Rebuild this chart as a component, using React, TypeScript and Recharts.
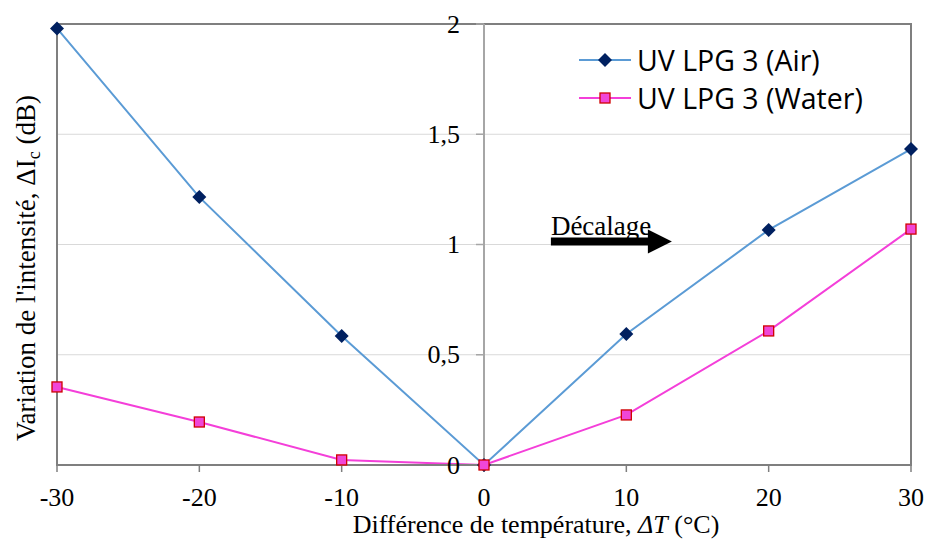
import React from "react";
import {
  LineChart,
  Line,
  XAxis,
  YAxis,
  CartesianGrid,
  ReferenceLine,
  ReferenceArea,
  ReferenceDot,
  Legend,
} from "recharts";

const temperatures = [-30, -20, -10, 0, 10, 20, 30];
const airValues = [1.98, 1.215, 0.585, 0, 0.594, 1.066, 1.433];
const waterValues = [0.354, 0.195, 0.023, 0, 0.227, 0.608, 1.07];
const xTicks = [-30, -20, -10, 0, 10, 20, 30];
const yTicks = [0, 0.5, 1, 1.5, 2];
const yTickLabels = ["0", "0,5", "1", "1,5", "2"];
const seriesNames = ["UV LPG 3 (Air)", "UV LPG 3 (Water)"];
const arrowStart = { x: 4.7, y: 1.014 };
const arrowEnd = { x: 13.2, y: 1.014 };
const annotationText = "Décalage";

const data = temperatures.map((t, i) => ({
  dt: t,
  air: airValues[i],
  water: waterValues[i],
}));

const W = 929;
const H = 548;
const M = { top: 24, right: 18, left: 57, bottom: 23 };
const X_AXIS_H = 60;
const SERIF = "'Liberation Serif', 'Times New Roman', serif";
const SANS = "'Open Sans', 'Noto Sans', sans-serif";

const AIR_LINE = "#5b9bd5";
const AIR_MARK = "#002060";
const WATER_LINE = "#f43fd9";
const WATER_FILL = "#f046d8";
const WATER_EDGE = "#d00000";
const FRAME = "#7f7f7f";

const Diamond = (props: any) => {
  const { cx, cy } = props;
  if (cx == null || cy == null) return null;
  const r = 7;
  return (
    <path
      d={`M${cx},${cy - r} L${cx + r},${cy} L${cx},${cy + r} L${cx - r},${cy} Z`}
      fill={AIR_MARK}
    />
  );
};

const Square = (props: any) => {
  const { cx, cy } = props;
  if (cx == null || cy == null) return null;
  const s = 10;
  return (
    <rect
      x={cx - s / 2}
      y={cy - s / 2}
      width={s}
      height={s}
      fill={WATER_FILL}
      stroke={WATER_EDGE}
      strokeWidth={1.3}
    />
  );
};

// y-axis tick (mark + label) drawn at x=0 via a reference dot
const makeCenterTick = (label: string, showMark: boolean) => (props: any) => {
  const { cx, cy } = props;
  if (cx == null || cy == null) return <g />;
  return (
    <g>
      {showMark && (
        <line x1={cx - 8} x2={cx} y1={cy} y2={cy} stroke="#a6a6a6" strokeWidth={1.5} />
      )}
      <text
        x={cx - 24}
        y={cy}
        textAnchor="end"
        dominantBaseline="central"
        fontFamily={SERIF}
        fontSize={26}
        fill="#000"
      >
        {label}
      </text>
    </g>
  );
};

const ArrowShape = (props: any) => {
  const { x1, y1, x2 } = props;
  const head = 24;
  const halfShaft = 4;
  const halfHead = 12;
  const xs = Math.min(x1, x2);
  const xe = Math.max(x1, x2);
  const yc = y1;
  return (
    <g>
      <path
        d={`M${xs},${yc - halfShaft} L${xe - head},${yc - halfShaft} L${xe - head},${yc - halfHead} L${xe},${yc} L${xe - head},${yc + halfHead} L${xe - head},${yc + halfShaft} L${xs},${yc + halfShaft} Z`}
        fill="#000"
      />
      <text x={xs} y={yc - 6} fontFamily={SERIF} fontSize={27} fill="#000">
        {annotationText}
      </text>
    </g>
  );
};

const LegendContent = () => {
  const items = [
    { name: seriesNames[0], line: AIR_LINE, mark: "diamond" },
    { name: seriesNames[1], line: WATER_LINE, mark: "square" },
  ];
  return (
    <div>
      {items.map((it) => (
        <div
          key={it.name}
          style={{ display: "flex", alignItems: "center", height: 38 }}
        >
          <svg width={58} height={20} style={{ display: "block" }}>
            <line x1={0} x2={52} y1={10} y2={10} stroke={it.line} strokeWidth={2} />
            {it.mark === "diamond" ? (
              <path d="M26,3 L33,10 L26,17 L19,10 Z" fill={AIR_MARK} />
            ) : (
              <rect x={21} y={5} width={10} height={10} fill={WATER_FILL} stroke={WATER_EDGE} strokeWidth={1.3} />
            )}
          </svg>
          <span
            style={{
              fontFamily: SANS,
              fontSize: 28.5,
              color: "#000",
              lineHeight: "38px",
              whiteSpace: "nowrap",
            }}
          >
            {it.name}
          </span>
        </div>
      ))}
    </div>
  );
};

const XTitle = (props: any) => {
  const { viewBox } = props;
  const cx = viewBox.x + viewBox.width / 2 + 52;
  return (
    <text
      x={cx}
      y={533}
      textAnchor="middle"
      fontFamily={SERIF}
      fontSize={26}
      fill="#000"
    >
      <tspan>Différence de température, </tspan>
      <tspan fontStyle="italic">ΔT</tspan>
      <tspan> (°C)</tspan>
    </text>
  );
};

const YTitle = () => {
  const cx = 35;
  const cy = 268;
  return (
    <text
      x={cx}
      y={cy}
      transform={`rotate(-90 ${cx} ${cy})`}
      textAnchor="middle"
      fontFamily={SERIF}
      fontSize={27}
      fill="#000"
    >
      <tspan>Variation de l'intensité, ΔI</tspan>
      <tspan fontSize={18} dy={5}>c</tspan>
      <tspan dy={-5}> (dB)</tspan>
    </text>
  );
};

export default function App() {
  return (
    <div style={{ position: "absolute", left: 0, top: 0, width: W, height: H, background: "#fff" }}>
      <LineChart width={W} height={H} data={data} margin={M}>
        <CartesianGrid horizontal vertical={false} stroke="#d9d9d9" strokeWidth={1.2} />
        <ReferenceArea
          x1={-30}
          x2={30}
          y1={0}
          y2={2}
          fill="none"
          stroke={FRAME}
          strokeWidth={2}
          ifOverflow="visible"
        />
        <ReferenceLine x={0} stroke="#a6a6a6" strokeWidth={2} />
        <XAxis
          dataKey="dt"
          type="number"
          domain={[-30, 30]}
          ticks={xTicks}
          height={X_AXIS_H}
          axisLine={{ stroke: FRAME, strokeWidth: 2 }}
          tickLine={{ stroke: FRAME, strokeWidth: 1.5 }}
          tickSize={7}
          tickMargin={16}
          tick={{ fontFamily: SERIF, fontSize: 26, fill: "#000" }}
          interval={0}
          label={<XTitle />}
        />
        <YAxis type="number" domain={[0, 2]} ticks={yTicks} hide />
        {yTicks.map((v, i) => (
          <ReferenceDot
            key={`yt-${v}`}
            x={0}
            y={v}
            r={0}
            ifOverflow="visible"
            shape={makeCenterTick(yTickLabels[i], i > 0)}
          />
        ))}
        <ReferenceLine
          segment={[arrowStart, arrowEnd]}
          shape={<ArrowShape />}
          ifOverflow="visible"
        />
        <Line
          dataKey="air"
          name={seriesNames[0]}
          stroke={AIR_LINE}
          strokeWidth={2}
          dot={<Diamond />}
          activeDot={false}
          isAnimationActive={false}
        />
        <Line
          dataKey="water"
          name={seriesNames[1]}
          stroke={WATER_LINE}
          strokeWidth={2}
          dot={<Square />}
          activeDot={false}
          isAnimationActive={false}
        />
        <Legend
          content={<LegendContent />}
          layout="horizontal"
          verticalAlign="middle"
          align="center"
          wrapperStyle={{ position: "absolute", left: 579, top: 41, width: 320 }}
        />
        <YTitle />
      </LineChart>
    </div>
  );
}
